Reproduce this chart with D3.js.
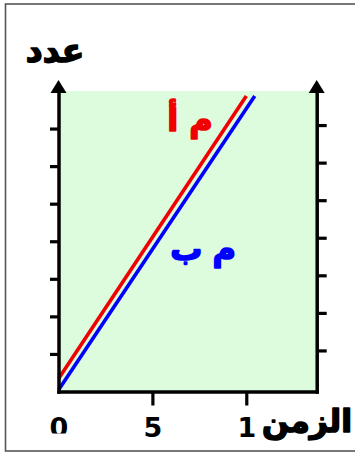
<!DOCTYPE html>
<html>
<head>
<meta charset="utf-8">
<script src="https://cdn.jsdelivr.net/npm/d3@7"></script>
<style>
  html, body { margin: 0; padding: 0; background: #fff; }
  svg { display: block; }
  text { font-family: "DejaVu Sans", sans-serif; font-weight: bold; }
  .ar { paint-order: stroke; stroke-linejoin: round; }
</style>
</head>
<body>
<svg id="chart" width="355" height="454"></svg>
<script>
// ---- data ----
const xTickValues = [0, 5, 10];
const xTickLabels = ["0", "5", "1"];
const yTickValues = [1, 2, 3, 4, 5, 6, 7];
const seriesA = [[0, 0.34], [10.0, 7.87]];   // م أ (red)
const seriesB = [[0, 0.04], [10.45, 7.87]];  // م ب (blue)
const labelA = "م أ";
const labelB = "م ب";
const yTitle = "عدد";
const xTitle = "الزمن";
const xDomain = [0, 13.75];
const yDomain = [0, 8];

// ---- layout ----
const svg = d3.select("#chart");
const x = d3.scaleLinear().domain(xDomain).range([58.5, 316.7]);
const y = d3.scaleLinear().domain(yDomain).range([391.5, 91]);

// outer frame
svg.append("rect").attr("x", 5.5).attr("y", 4).attr("width", 370).attr("height", 447)
  .attr("fill", "#fff").attr("stroke", "#555").attr("stroke-width", 1.6);

// plot background
svg.append("rect")
  .attr("x", x(0)).attr("y", y(yDomain[1]))
  .attr("width", x(xDomain[1]) - x(0)).attr("height", y(0) - y(yDomain[1]))
  .attr("fill", "#ddfbdd");

// series lines
const line = d3.line().x(d => x(d[0])).y(d => y(d[1]));
svg.append("path").datum(seriesA).attr("d", line)
  .attr("fill", "none").attr("stroke", "#f00000").attr("stroke-width", 3.6);
svg.append("path").datum(seriesB).attr("d", line)
  .attr("fill", "none").attr("stroke", "#0000ff").attr("stroke-width", 3.6);

// left axis
const gL = svg.append("g").attr("transform", `translate(${x(0)},0)`)
  .call(d3.axisLeft(y).tickValues(yTickValues).tickSize(8.5).tickSizeOuter(0).tickFormat(""));
// right axis
const gR = svg.append("g").attr("transform", `translate(${x(xDomain[1])},0)`)
  .call(d3.axisRight(y).tickValues(yTickValues).tickSize(10).tickSizeOuter(0).tickFormat(""));
gR.selectAll(".tick").attr("transform", d => `translate(0,${y(d) - 3})`);
// bottom axis
const gB = svg.append("g").attr("transform", `translate(0,${y(0)})`)
  .call(d3.axisBottom(x).tickValues(xTickValues).tickSize(14).tickSizeOuter(0)
    .tickFormat((d, i) => xTickLabels[i]));

[gL, gR, gB].forEach(g => {
  g.select(".domain").attr("stroke", "#000").attr("stroke-width", 3.5).attr("stroke-linecap", "square");
  g.selectAll(".tick line").attr("stroke", "#000").attr("stroke-width", 3.2);
});
gB.selectAll(".tick").filter(d => d === 0).select("line").remove();
gB.selectAll(".tick text")
  .attr("y", 45).attr("dy", 0)
  .attr("font-size", 27).attr("font-family", "DejaVu Sans").attr("font-weight", "bold")
  .attr("fill", "#000");

// clip the zero label like the reference (user space of the text element)
svg.append("defs").append("clipPath").attr("id", "zclip")
  .append("rect").attr("x", -60).attr("y", -10).attr("width", 120).attr("height", 10 + 433.5 - y(0));
gB.selectAll(".tick").filter(d => d === 0).select("text").attr("clip-path", "url(#zclip)");

// arrows on top of vertical axes
[x(0), x(xDomain[1])].forEach(ax => {
  const top = y(yDomain[1]);
  svg.append("path")
    .attr("d", `M${ax},${top - 11} L${ax + 8},${top + 2} L${ax - 8},${top + 2} Z`)
    .attr("fill", "#000");
});

// Arabic texts (bold emphasised with a thin same-colour stroke)
function arText(tx, ty, anchor, color, str, size, ws) {
  return svg.append("text").attr("class", "ar")
    .attr("x", tx).attr("y", ty).attr("text-anchor", anchor)
    .attr("font-size", size).attr("fill", color)
    .attr("stroke", color).attr("stroke-width", 1.6)
    .style("word-spacing", ws + "px")
    .text(str);
}
arText(55, 62, "middle", "#000", yTitle, 33, 0);
arText(352, 432, "end", "#000", xTitle, 31.5, 0);

// series labels
arText(190, 131, "middle", "#f00000", labelA, 32, 0);
arText(203, 260, "middle", "#0000ff", labelB, 32, -1);
</script>
</body>
</html>
